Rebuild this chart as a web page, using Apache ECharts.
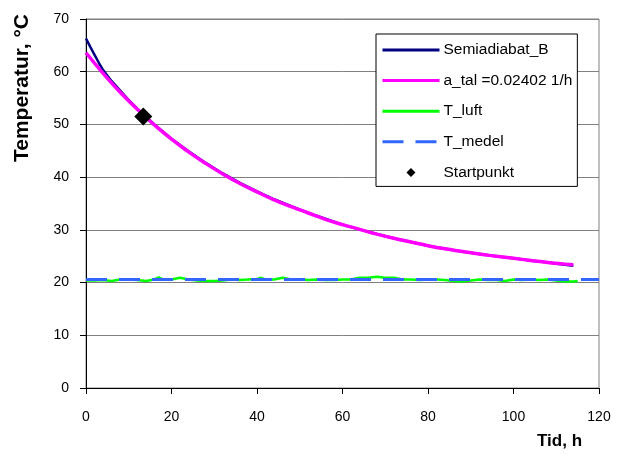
<!DOCTYPE html>
<html>
<head>
<meta charset="utf-8">
<script src="https://cdn.jsdelivr.net/npm/echarts@6/dist/echarts.min.js"></script>
<style>
html,body{margin:0;padding:0;background:#fff;}
#c{width:628px;height:463px;}
</style>
</head>
<body>
<div id="c"></div>
<script>
// ---- data ----
const semiTime = [0, 1, 2, 3, 4, 6, 8, 10, 12, 16, 20, 24, 28, 32, 36, 40, 44, 48, 52, 56, 60, 64, 68, 72, 76, 80, 84, 88, 92, 96, 100, 104, 108, 112, 114];
const semiTemp = [66.3, 64.7, 63.2, 61.7, 60.3, 58.2, 56.4, 54.6, 53.0, 50.0, 47.3, 44.9, 42.7, 40.7, 38.9, 37.3, 35.8, 34.5, 33.2, 32.1, 31.0, 30.1, 29.2, 28.4, 27.7, 27.0, 26.4, 25.9, 25.4, 25.0, 24.6, 24.2, 23.8, 23.4, 23.2];

const fitTime = [0, 4, 8, 12, 16, 20, 24, 28, 32, 36, 40, 44, 48, 52, 56, 60, 64, 68, 72, 76, 80, 84, 88, 92, 96, 100, 104, 108, 112, 114];
const fitTemp = [63.6, 59.7, 56.1, 52.9, 49.9, 47.2, 44.8, 42.6, 40.6, 38.8, 37.2, 35.7, 34.4, 33.2, 32.0, 31.0, 30.1, 29.2, 28.4, 27.7, 27.0, 26.4, 25.9, 25.4, 25.0, 24.6, 24.2, 23.8, 23.5, 23.4];

const luftTime = [0, 2, 4, 6, 8, 10, 12, 14, 16, 17, 18, 20, 22, 24, 26, 28, 30, 32, 34, 36, 38, 40, 41, 42, 44, 46, 48, 50, 52, 54, 56, 58, 60, 62, 64, 66, 68, 70, 72, 74, 76, 78, 80, 82, 84, 86, 88, 90, 92, 94, 96, 98, 100, 102, 104, 106, 108, 110, 112, 114, 115];
const luftTemp = [20.4, 20.4, 20.5, 20.3, 20.6, 20.6, 20.5, 20.3, 20.6, 21.0, 20.6, 20.6, 20.9, 20.6, 20.4, 20.3, 20.3, 20.4, 20.6, 20.5, 20.6, 20.7, 20.9, 20.6, 20.6, 20.9, 20.6, 20.6, 20.5, 20.6, 20.5, 20.5, 20.6, 20.6, 20.9, 20.9, 21.1, 20.9, 20.9, 20.6, 20.6, 20.5, 20.6, 20.6, 20.5, 20.3, 20.2, 20.4, 20.6, 20.5, 20.5, 20.3, 20.6, 20.5, 20.6, 20.5, 20.6, 20.4, 20.2, 20.2, 20.3];

const medelTime = [0, 120];
const medelTemp = [20.6, 20.6];

const startTime = [13.4];
const startTemp = [51.5];

const seriesNames = ['Semiadiabat_B', 'a_tal =0.02402 1/h', 'T_luft', 'T_medel', 'Startpunkt'];
const xTicks = [0, 20, 40, 60, 80, 100, 120];
const yTicks = [0, 10, 20, 30, 40, 50, 60, 70];
const xTitle = 'Tid, h';
const yTitle = 'Temperatur, °C';

// ---- build ----
const pairs = (xs, ys) => xs.map((x, i) => [x, ys[i]]);

const chart = echarts.init(document.getElementById('c'), null, {renderer: 'canvas'});
const FONT = 'Arial, "Liberation Sans", sans-serif';

chart.setOption({
  animation: false,
  backgroundColor: '#fff',
  grid: {left: 86, right: 29, top: 19, bottom: 75, show: true, borderColor: '#808080', borderWidth: 1, backgroundColor: 'transparent'},
  xAxis: {
    type: 'value', min: xTicks[0], max: xTicks[xTicks.length - 1], interval: 20,
    axisLine: {lineStyle: {color: '#000', width: 1}},
    axisTick: {show: true, length: 6, lineStyle: {color: '#000'}},
    axisLabel: {color: '#000', fontSize: 14, fontFamily: FONT, margin: 22},
    splitLine: {show: false}
  },
  yAxis: {
    type: 'value', min: yTicks[0], max: yTicks[yTicks.length - 1], interval: 10,
    axisLine: {show: true, lineStyle: {color: '#000', width: 1}},
    axisTick: {show: true, length: 6, lineStyle: {color: '#000'}},
    axisLabel: {color: '#000', fontSize: 14, fontFamily: FONT, margin: 17},
    splitLine: {show: true, lineStyle: {color: '#808080', width: 1}}
  },
  legend: {
    orient: 'vertical', left: 376, top: 34,
    backgroundColor: '#fff', borderColor: '#000', borderWidth: 1,
    padding: [8, 5, 6, 5],
    itemWidth: 57, itemHeight: 14, itemGap: 14.6,
    itemStyle: {opacity: 0},
    lineStyle: {width: 3},
    textStyle: {color: '#000', fontSize: 15.5, fontFamily: FONT, padding: [0, 0, 0, -1]},
    data: [
      {name: seriesNames[0]},
      {name: seriesNames[1]},
      {name: seriesNames[2]},
      {name: seriesNames[3]},
      {name: seriesNames[4], icon: 'path://M0,0 L0.01,0 M57,14 L57.01,14 M24,7 L28.5,2.5 L33,7 L28.5,11.5 Z', itemStyle: {opacity: 1, color: '#000'}}
    ]
  },
  series: [
    {name: seriesNames[0], type: 'line', data: pairs(semiTime, semiTemp), symbol: 'none', smooth: false,
      lineStyle: {color: '#000080', width: 2.5}, itemStyle: {color: '#000080'}, z: 2},
    {name: seriesNames[1], type: 'line', data: pairs(fitTime, fitTemp), symbol: 'none', smooth: true,
      lineStyle: {color: '#FF00FF', width: 3.5}, itemStyle: {color: '#FF00FF'}, z: 3},
    {name: seriesNames[2], type: 'line', data: pairs(luftTime, luftTemp), symbol: 'none',
      lineStyle: {color: '#00FF00', width: 2.5}, itemStyle: {color: '#00FF00'}, z: 2},
    {name: seriesNames[3], type: 'line', data: pairs(medelTime, medelTemp), symbol: 'none',
      lineStyle: {color: '#3366FF', width: 3, type: [21, 12]}, itemStyle: {color: '#3366FF'}, z: 3},
    {name: seriesNames[4], type: 'scatter', data: pairs(startTime, startTemp), symbol: 'diamond', symbolSize: 18,
      itemStyle: {color: '#000', opacity: 1}, z: 5}
  ],
  graphic: [
    {type: 'text', left: 537, top: 433, style: {text: xTitle, fill: '#000', font: 'bold 17px ' + FONT}},
    {type: 'text', x: 22, y: 88, rotation: Math.PI / 2, style: {text: yTitle, fill: '#000', font: 'bold 21px ' + FONT, align: 'center', verticalAlign: 'middle'}}
  ]
});
</script>
</body>
</html>
